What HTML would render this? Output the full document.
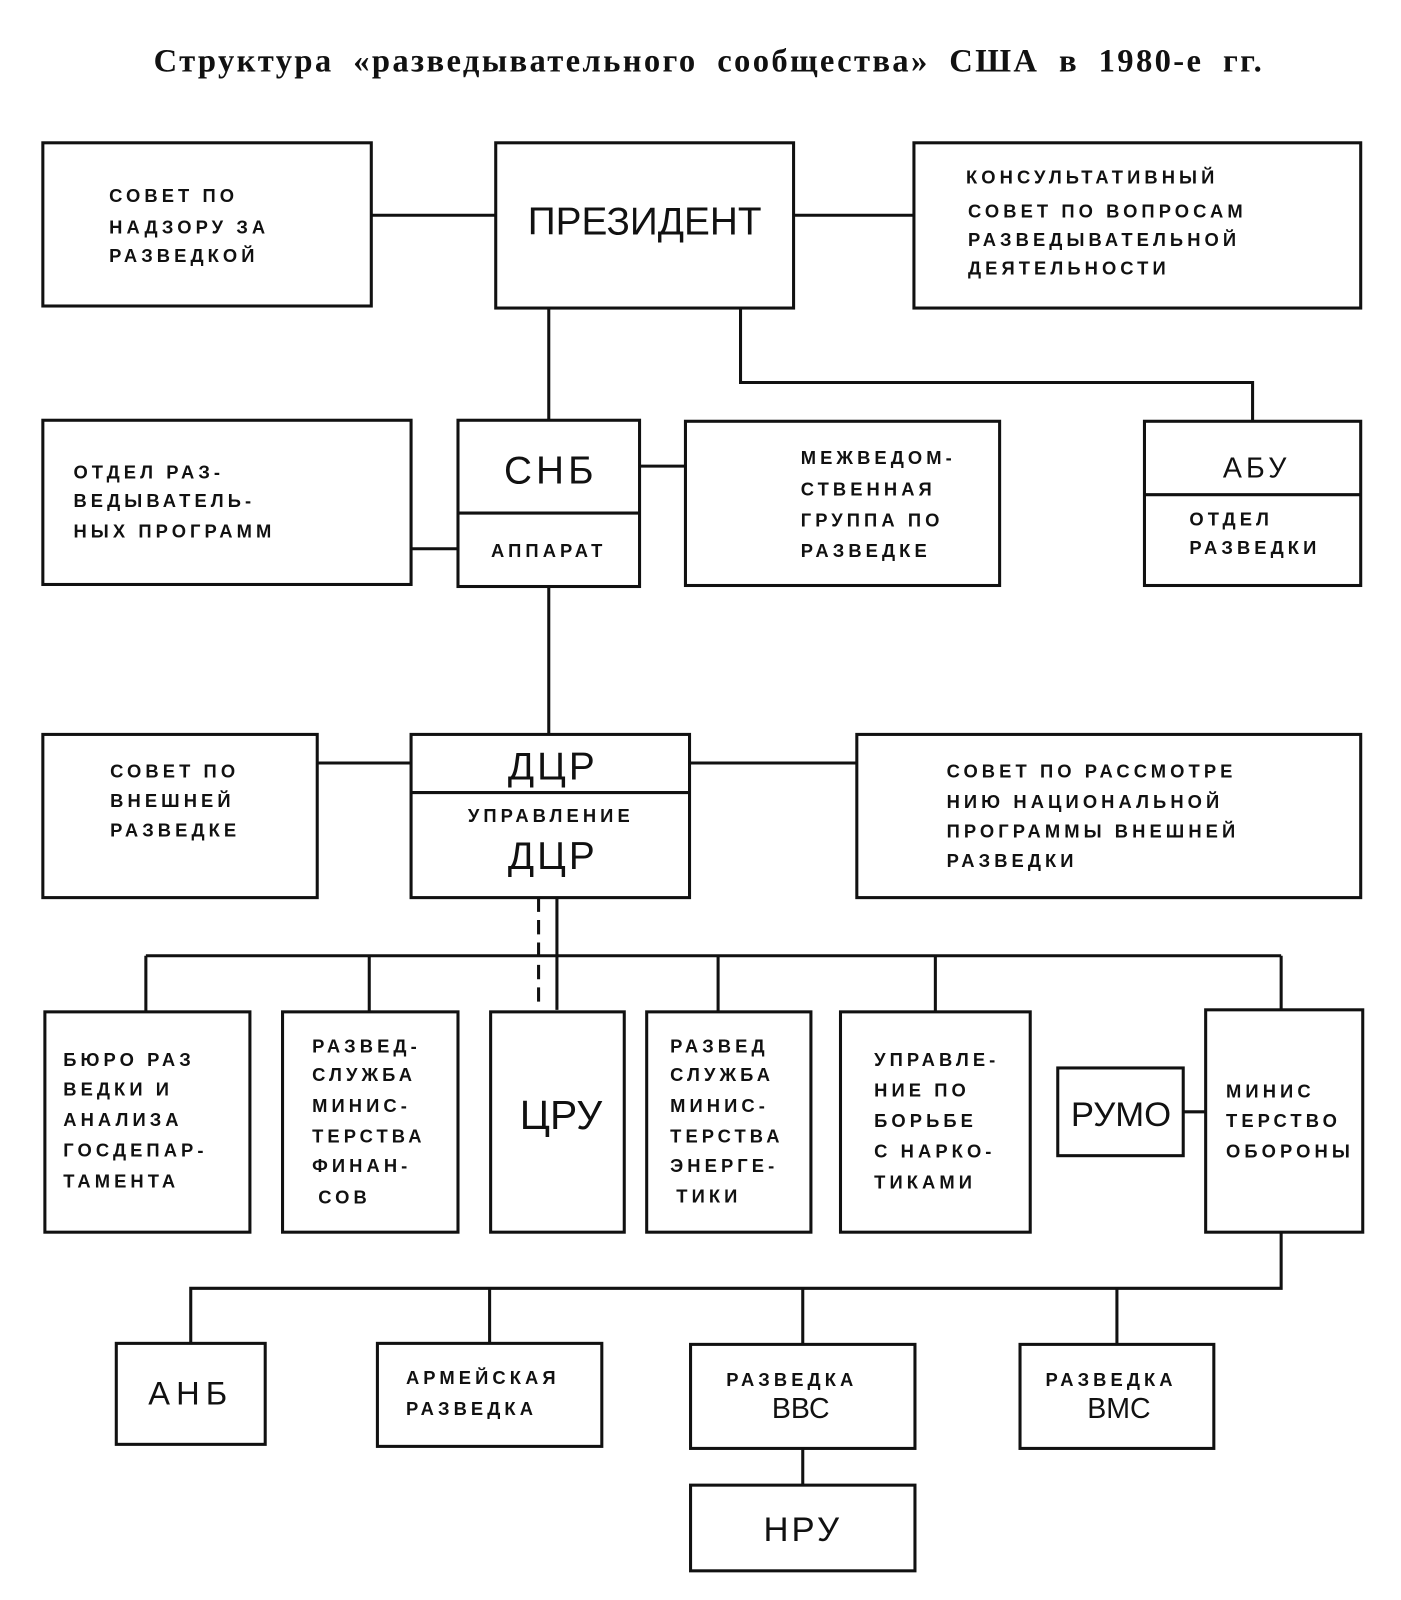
<!DOCTYPE html>
<html><head><meta charset="utf-8"><style>
html,body{margin:0;padding:0;background:#fff;}
svg{display:block}
.t{font-family:"Liberation Sans",sans-serif;font-size:18px;text-transform:uppercase;letter-spacing:4px;font-weight:bold;fill:#111}
.b{font-family:"Liberation Sans",sans-serif;fill:#111}
</style></head><body>
<svg width="1401" height="1600" viewBox="0 0 1373.5 1568.6" xmlns="http://www.w3.org/2000/svg">
<text x="695" y="70" text-anchor="middle" style="font-family:'Liberation Serif',serif;font-size:32px;font-weight:bold;letter-spacing:2.3px;word-spacing:9px" fill="#111">Структура «разведывательного сообщества» США в 1980-е гг.</text>
<g fill="none" stroke="#111" stroke-width="3">
<rect x="42" y="140" width="322" height="160"/>
<rect x="486" y="140" width="292" height="162"/>
<rect x="896" y="140" width="438" height="162"/>
<line x1="364" y1="211" x2="486" y2="211"/>
<line x1="778" y1="211" x2="896" y2="211"/>
<line x1="538" y1="302" x2="538" y2="413"/>
<polyline points="726,302 726,375 1228,375 1228,413"/>
<rect x="42" y="412" width="361" height="161"/>
<rect x="449" y="412" width="178" height="163"/>
<line x1="449" y1="503" x2="627" y2="503"/>
<line x1="403" y1="538" x2="449" y2="538"/>
<line x1="627" y1="457" x2="672" y2="457"/>
<rect x="672" y="413" width="308" height="161"/>
<rect x="1122" y="413" width="212" height="161"/>
<line x1="1122" y1="485" x2="1334" y2="485"/>
<line x1="538" y1="575" x2="538" y2="720"/>
<rect x="42" y="720" width="269" height="160"/>
<rect x="403" y="720" width="273" height="160"/>
<line x1="403" y1="777" x2="676" y2="777"/>
<line x1="311" y1="748" x2="403" y2="748"/>
<line x1="676" y1="748" x2="840" y2="748"/>
<rect x="840" y="720" width="494" height="160"/>
<line x1="528" y1="880" x2="528" y2="990" stroke-dasharray="14,8"/>
<line x1="546" y1="880" x2="546" y2="990"/>
<line x1="143" y1="937" x2="1256" y2="937"/>
<line x1="143" y1="937" x2="143" y2="992"/>
<line x1="362" y1="937" x2="362" y2="992"/>
<line x1="704" y1="937" x2="704" y2="992"/>
<line x1="917" y1="937" x2="917" y2="992"/>
<line x1="1256" y1="937" x2="1256" y2="990"/>
<rect x="44" y="992" width="201" height="216"/>
<rect x="277" y="992" width="172" height="216"/>
<rect x="481" y="992" width="131" height="216"/>
<rect x="634" y="992" width="161" height="216"/>
<rect x="824" y="992" width="186" height="216"/>
<rect x="1037" y="1047" width="123" height="86"/>
<rect x="1182" y="990" width="154" height="218"/>
<line x1="1160" y1="1090" x2="1182" y2="1090"/>
<polyline points="1256,1208 1256,1263 187,1263 187,1317"/>
<line x1="480" y1="1263" x2="480" y2="1317"/>
<line x1="787" y1="1263" x2="787" y2="1318"/>
<line x1="1095" y1="1263" x2="1095" y2="1318"/>
<rect x="114" y="1317" width="146" height="99"/>
<rect x="370" y="1317" width="220" height="101"/>
<rect x="677" y="1318" width="220" height="102"/>
<rect x="1000" y="1318" width="190" height="102"/>
<line x1="787" y1="1420" x2="787" y2="1456"/>
<rect x="677" y="1456" width="220" height="84"/>
</g>
<g class="t">
<text x="107" y="198">Совет по</text><text x="107" y="229">надзору за</text><text x="107" y="257">разведкой</text>
<text x="947" y="180">Консультативный</text><text x="949" y="213">совет по вопросам</text><text x="949" y="241">разведывательной</text><text x="949" y="269">деятельности</text>
<text x="72" y="469">отдел раз-</text><text x="72" y="497">ведыватель-</text><text x="72" y="527">ных программ</text>
<text x="538" y="546" text-anchor="middle">аппарат</text>
<text x="785" y="455">Межведом-</text><text x="785" y="486">ственная</text><text x="785" y="516">группа по</text><text x="785" y="546">разведке</text>
<text x="1166" y="515">отдел</text><text x="1166" y="543">разведки</text>
<text x="108" y="762">Совет по</text><text x="108" y="791">внешней</text><text x="108" y="820">разведке</text>
<text x="540" y="806" text-anchor="middle">Управление</text>
<text x="928" y="762">Совет по рассмотре</text><text x="928" y="792">нию национальной</text><text x="928" y="821">программы внешней</text><text x="928" y="850">разведки</text>
<text x="62" y="1045">Бюро раз</text><text x="62" y="1074">ведки и</text><text x="62" y="1104">анализа</text><text x="62" y="1134">госдепар-</text><text x="62" y="1164">тамента</text>
<text x="306" y="1032">Развед-</text><text x="306" y="1060">служба</text><text x="306" y="1090">минис-</text><text x="306" y="1120">терства</text><text x="306" y="1149">финан-</text><text x="312" y="1180">сов</text>
<text x="657" y="1032">Развед</text><text x="657" y="1060">служба</text><text x="657" y="1090">минис-</text><text x="657" y="1120">терства</text><text x="657" y="1149">энерге-</text><text x="663" y="1179">тики</text>
<text x="857" y="1045">Управле-</text><text x="857" y="1075">ние по</text><text x="857" y="1105">борьбе</text><text x="857" y="1135">с нарко-</text><text x="857" y="1165">тиками</text>
<text x="1202" y="1076">Минис</text><text x="1202" y="1105">терство</text><text x="1202" y="1135">обороны</text>
<text x="398" y="1357">армейская</text><text x="398" y="1387">разведка</text>
<text x="712" y="1359">разведка</text>
<text x="1025" y="1359">разведка</text>
</g>
<g class="b">
<text x="632" y="230" text-anchor="middle" font-size="38">ПРЕЗИДЕНТ</text>
<text x="540" y="474" text-anchor="middle" font-size="38" letter-spacing="4">СНБ</text>
<text x="1232" y="468" text-anchor="middle" font-size="28" letter-spacing="4">АБУ</text>
<text x="542" y="764" text-anchor="middle" font-size="38" letter-spacing="3">ДЦР</text>
<text x="542" y="852" text-anchor="middle" font-size="38" letter-spacing="3">ДЦР</text>
<text x="550" y="1107" text-anchor="middle" font-size="40">ЦРУ</text>
<text x="1099" y="1104" text-anchor="middle" font-size="34">РУМО</text>
<text x="187" y="1377" text-anchor="middle" font-size="32" letter-spacing="6">АНБ</text>
<text x="785" y="1390" text-anchor="middle" font-size="28">ВВС</text>
<text x="1097" y="1390" text-anchor="middle" font-size="28">ВМС</text>
<text x="787" y="1511" text-anchor="middle" font-size="34" letter-spacing="3">НРУ</text>
</g>
</svg>
</body></html>
